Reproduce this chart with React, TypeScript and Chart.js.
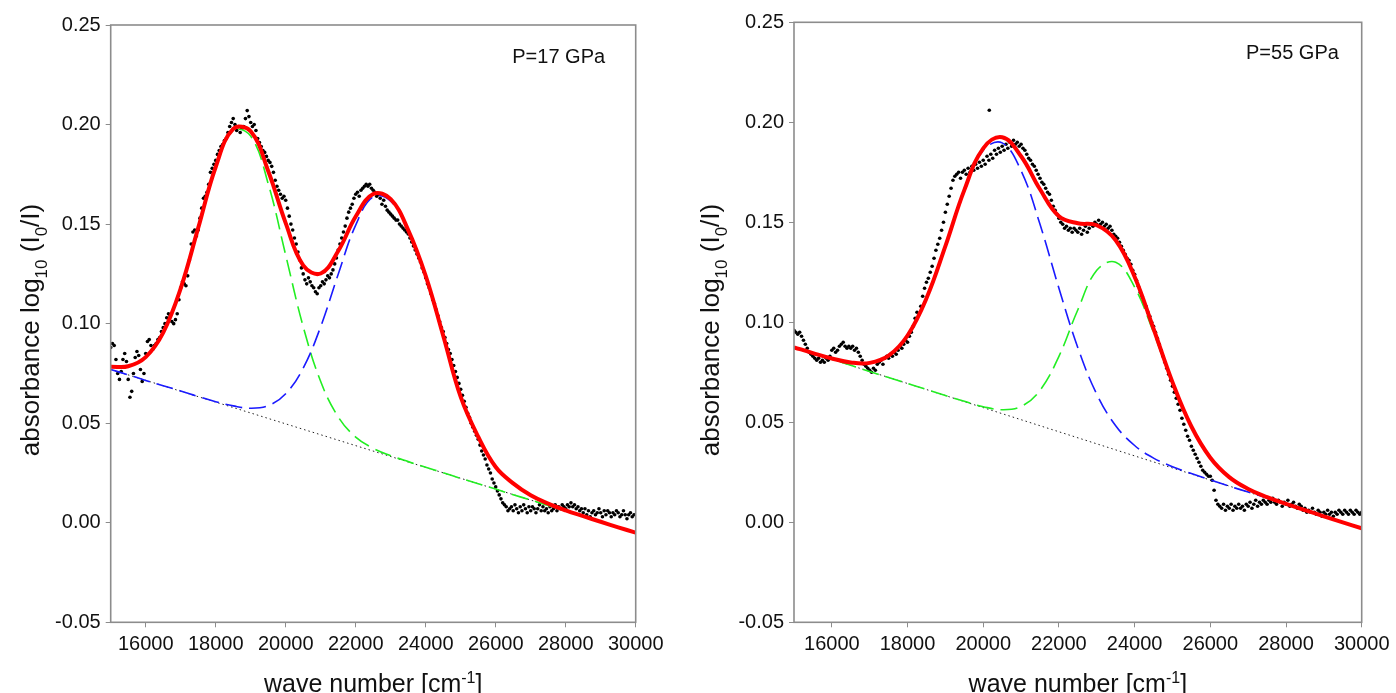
import React, { useEffect, useRef } from "react";
import { Chart, registerables } from "chart.js";

Chart.register(...registerables);

const FONT = "'Liberation Sans', Arial, Helvetica, sans-serif";

// axes
const X_MIN = 15000;
const X_MAX = 30000;
const Y_MIN = -0.05;
const Y_MAX = 0.25;
const X_TICKS = [16000, 18000, 20000, 22000, 24000, 26000, 28000, 30000];
const Y_TICKS = [-0.05, 0.0, 0.05, 0.1, 0.15, 0.2, 0.25];

// sampling grids of the measured spectra and of the fitted curves
const DATA_START = 15000;
const DATA_STEP = 50;
const FIT_START = 15000;
const FIT_STEP = 500;

// ---------- P = 17 GPa ----------
const LEFT_LABEL = "P=17 GPa";
const LEFT_DATA = [
  0.088, 0.090, 0.089, 0.082, 0.075, 0.072, 0.076, 0.082, 0.085, 0.081,
  0.072, 0.063, 0.066, 0.075, 0.083, 0.086, 0.084, 0.077, 0.071, 0.075,
  0.085, 0.091, 0.092, 0.089, 0.087, 0.089, 0.090, 0.092, 0.093, 0.096,
  0.098, 0.100, 0.103, 0.105, 0.104, 0.101, 0.100, 0.102, 0.105, 0.112,
  0.118, 0.121, 0.120, 0.119, 0.124, 0.132, 0.140, 0.146, 0.147, 0.144,
  0.147, 0.153, 0.158, 0.163, 0.164, 0.166, 0.170, 0.176, 0.178, 0.180,
  0.182, 0.185, 0.187, 0.189, 0.190, 0.192, 0.193, 0.196, 0.199, 0.201,
  0.203, 0.200, 0.197, 0.199, 0.196, 0.198, 0.199, 0.203, 0.207, 0.204,
  0.201, 0.199, 0.200, 0.197, 0.193, 0.191, 0.189, 0.187, 0.186, 0.184,
  0.182, 0.181, 0.179, 0.176, 0.172, 0.169, 0.167, 0.165, 0.163, 0.164,
  0.162, 0.158, 0.154, 0.150, 0.147, 0.143, 0.140, 0.136, 0.132, 0.128,
  0.125, 0.122, 0.120, 0.123, 0.121, 0.119, 0.118, 0.116, 0.115, 0.118,
  0.119, 0.121, 0.120, 0.122, 0.124, 0.123, 0.125, 0.127, 0.130, 0.133,
  0.137, 0.140, 0.143, 0.146, 0.149, 0.153, 0.156, 0.158, 0.160, 0.163,
  0.165, 0.166, 0.164, 0.167, 0.168, 0.169, 0.170, 0.169, 0.170, 0.168,
  0.167, 0.166, 0.164, 0.165, 0.163, 0.160, 0.162, 0.159, 0.157, 0.156,
  0.155, 0.154, 0.153, 0.152, 0.152, 0.150, 0.149, 0.148, 0.147, 0.146,
  0.145, 0.143, 0.141, 0.139, 0.137, 0.135, 0.133, 0.131, 0.128, 0.126,
  0.123, 0.120, 0.118, 0.115, 0.112, 0.110, 0.107, 0.104, 0.101, 0.098,
  0.096, 0.093, 0.090, 0.087, 0.085, 0.082, 0.079, 0.076, 0.073, 0.070,
  0.067, 0.064, 0.061, 0.058, 0.055, 0.053, 0.050, 0.048, 0.046, 0.044,
  0.042, 0.039, 0.036, 0.034, 0.032, 0.029, 0.027, 0.025, 0.022, 0.020,
  0.018, 0.016, 0.014, 0.012, 0.010, 0.009, 0.008, 0.006, 0.007, 0.008,
  0.006, 0.009, 0.007, 0.005, 0.008, 0.006, 0.009, 0.007, 0.005, 0.008,
  0.006, 0.008, 0.007, 0.005, 0.007, 0.009, 0.006, 0.008, 0.006, 0.007,
  0.005, 0.008, 0.006, 0.007, 0.009, 0.006, 0.008, 0.007, 0.009, 0.008,
  0.007, 0.009, 0.008, 0.010, 0.008, 0.009, 0.007, 0.008, 0.006, 0.007,
  0.005, 0.007, 0.004, 0.006, 0.003, 0.005, 0.006, 0.004, 0.005, 0.007,
  0.005, 0.003, 0.006, 0.004, 0.006, 0.005, 0.003, 0.005, 0.004, 0.006,
  0.005, 0.003, 0.004, 0.006, 0.004, 0.002, 0.004, 0.005, 0.003, 0.004,
  0.004,
];
const LEFT_FIT = [
  0.0784, 0.0786, 0.0832, 0.0955, 0.1177, 0.1481, 0.1787, 0.1978, 0.1966, 0.1767,
  0.1505, 0.1293, 0.1252, 0.1365, 0.1538, 0.1651, 0.1625, 0.1470, 0.1240, 0.0940,
  0.0632, 0.0432, 0.0280, 0.0198, 0.0138, 0.0096, 0.0062, 0.0033, 0.0005, -0.0023,
  -0.0050,
];
const LEFT_GREEN = [
  0.0784, 0.0786, 0.0832, 0.0955, 0.1177, 0.1480, 0.1785, 0.1970, 0.1942, 0.1703,
  0.1344, 0.0985, 0.0709, 0.0532, 0.0430, 0.0374, 0.0337, 0.0307, 0.0279, 0.0251,
  0.0223, 0.0196, 0.0169, 0.0141, 0.0114, 0.0087, 0.0059, 0.0032, 0.0005, -0.0023,
  -0.0050,
];
const LEFT_BLUE = [
  0.0770, 0.0743, 0.0715, 0.0688, 0.0662, 0.0634, 0.0608, 0.0587, 0.0575, 0.0588,
  0.0648, 0.0777, 0.0985, 0.1248, 0.1495, 0.1637, 0.1615, 0.1467, 0.1238, 0.0939,
  0.0630, 0.0430, 0.0279, 0.0198, 0.0138, 0.0096, 0.0062, 0.0033, 0.0005, -0.0023,
  -0.0050,
];
const LEFT_BASE_X = [15000, 30000];
const LEFT_BASE_Y = [0.077, -0.005];

// ---------- P = 55 GPa ----------
const RIGHT_LABEL = "P=55 GPa";
const RIGHT_DATA = [
  0.096, 0.095, 0.094, 0.095, 0.093, 0.091, 0.089, 0.087, 0.085, 0.084,
  0.083, 0.082, 0.081, 0.082, 0.080, 0.081, 0.080, 0.082, 0.081, 0.083,
  0.086, 0.087, 0.085, 0.086, 0.088, 0.089, 0.090, 0.088, 0.087, 0.088,
  0.087, 0.088, 0.086, 0.087, 0.085, 0.083, 0.081, 0.079, 0.078, 0.077,
  0.076, 0.075, 0.077, 0.076, 0.079, 0.080, 0.081, 0.079, 0.082, 0.083,
  0.082, 0.084, 0.083, 0.085, 0.084, 0.086, 0.088, 0.087, 0.089, 0.091,
  0.090, 0.093, 0.095, 0.098, 0.102, 0.105, 0.104, 0.108, 0.113, 0.117,
  0.120, 0.122, 0.125, 0.128, 0.132, 0.136, 0.139, 0.142, 0.146, 0.150,
  0.155, 0.159, 0.163, 0.167, 0.171, 0.173, 0.174, 0.175, 0.172, 0.175,
  0.176, 0.174, 0.177, 0.175, 0.178, 0.176, 0.179, 0.177, 0.180, 0.178,
  0.181, 0.179, 0.183, 0.181, 0.184, 0.182, 0.186, 0.184, 0.187, 0.185,
  0.188, 0.186, 0.189, 0.187, 0.190, 0.188, 0.191, 0.189, 0.190, 0.188,
  0.189, 0.187, 0.186, 0.184, 0.182, 0.181, 0.179, 0.178, 0.176, 0.174,
  0.172, 0.170, 0.169, 0.167, 0.165, 0.164, 0.161, 0.158, 0.156, 0.154,
  0.152, 0.150, 0.149, 0.147, 0.148, 0.146, 0.147, 0.145, 0.147, 0.146,
  0.145, 0.147, 0.144, 0.146, 0.148, 0.145, 0.147, 0.149, 0.148, 0.150,
  0.149, 0.151, 0.149, 0.150, 0.148, 0.149, 0.147, 0.148, 0.146, 0.144,
  0.143, 0.142, 0.140, 0.138, 0.136, 0.134, 0.132, 0.131, 0.129, 0.126,
  0.124, 0.121, 0.118, 0.115, 0.113, 0.110, 0.108, 0.105, 0.103, 0.100,
  0.098, 0.095, 0.092, 0.089, 0.086, 0.083, 0.080, 0.077, 0.074, 0.071,
  0.068, 0.065, 0.062, 0.059, 0.056, 0.052, 0.049, 0.046, 0.043, 0.041,
  0.038, 0.036, 0.034, 0.032, 0.030, 0.028, 0.026, 0.025, 0.024, 0.023,
  0.023, 0.021, 0.016, 0.011, 0.009, 0.008, 0.007, 0.009, 0.006, 0.008,
  0.007, 0.009, 0.006, 0.008, 0.007, 0.009, 0.007, 0.008, 0.006, 0.009,
  0.008, 0.010, 0.007, 0.009, 0.011, 0.008, 0.010, 0.009, 0.011, 0.010,
  0.009, 0.011, 0.010, 0.012, 0.010, 0.009, 0.011, 0.010, 0.008, 0.010,
  0.009, 0.011, 0.008, 0.009, 0.010, 0.008, 0.007, 0.009, 0.008, 0.006,
  0.007, 0.005, 0.006, 0.005, 0.007, 0.005, 0.004, 0.006, 0.005, 0.003,
  0.005, 0.004, 0.006, 0.004, 0.005, 0.003, 0.005, 0.004, 0.006, 0.005,
  0.004, 0.006, 0.005, 0.004, 0.006, 0.005, 0.004, 0.006, 0.005, 0.004,
  0.005,
];
const RIGHT_OUTLIER_X = [20160];
const RIGHT_OUTLIER_Y = [0.206];
const RIGHT_FIT = [
  0.0875, 0.0846, 0.0819, 0.0799, 0.0797, 0.0833, 0.0934, 0.1120, 0.1381, 0.1661,
  0.1870, 0.1925, 0.1830, 0.1665, 0.1530, 0.1495, 0.1485, 0.1410, 0.1228, 0.0968,
  0.0701, 0.0479, 0.0323, 0.0226, 0.0167, 0.0126, 0.0092, 0.0061, 0.0030, 0.0000,
  -0.0030,
];
const RIGHT_BLUE = [
  0.0875, 0.0846, 0.0819, 0.0799, 0.0797, 0.0833, 0.0934, 0.1120, 0.1381, 0.1660,
  0.1860, 0.1897, 0.1758, 0.1490, 0.1170, 0.0873, 0.0640, 0.0483, 0.0384, 0.0321,
  0.0278, 0.0244, 0.0212, 0.0181, 0.0151, 0.0121, 0.0091, 0.0061, 0.0030, 0.0000,
  -0.0030,
];
const RIGHT_GREEN = [
  0.0875, 0.0845, 0.0815, 0.0785, 0.0754, 0.0724, 0.0694, 0.0664, 0.0634, 0.0605,
  0.0578, 0.0563, 0.0579, 0.0660, 0.0830, 0.1063, 0.1260, 0.1300, 0.1176, 0.0949,
  0.0695, 0.0477, 0.0323, 0.0226, 0.0167, 0.0126, 0.0092, 0.0061, 0.0030, 0.0000,
  -0.0030,
];
const RIGHT_BASE_X = [15000, 30000];
const RIGHT_BASE_Y = [0.0875, -0.003];

// axis titles (rich text: sub / superscripts)
const Y_TITLE = [
  { t: "absorbance log" },
  { t: "10", s: "sub" },
  { t: " (I" },
  { t: "0", s: "sub" },
  { t: "/I)" },
];
const X_TITLE = [{ t: "wave number [cm" }, { t: "-1", s: "sup" }, { t: "]" }];

const CANVAS_W = 698;
const CANVAS_H = 693;

type Part = { t: string; s?: string };

function drawRich(ctx: CanvasRenderingContext2D, parts: Part[], cx: number, cy: number, size: number, rotate: boolean) {
  ctx.save();
  ctx.translate(cx, cy);
  if (rotate) ctx.rotate(-Math.PI / 2);
  const small = Math.round(size * 0.65);
  const widths: number[] = [];
  let total = 0;
  for (const p of parts) {
    ctx.font = `${p.s ? small : size}px ${FONT}`;
    const w = ctx.measureText(p.t).width;
    widths.push(w);
    total += w;
  }
  let x = -total / 2;
  ctx.textAlign = "left";
  ctx.textBaseline = "alphabetic";
  ctx.fillStyle = "#111";
  const base = size * 0.36;
  parts.forEach((p, i) => {
    ctx.font = `${p.s ? small : size}px ${FONT}`;
    const dy = p.s === "sub" ? size * 0.3 : p.s === "sup" ? -size * 0.38 : 0;
    ctx.fillText(p.t, x, base + dy);
    x += widths[i];
  });
  ctx.restore();
}

const decorPlugin = {
  id: "panelDecor",
  afterDatasetsDraw(chart: any) {
    const { ctx, chartArea } = chart;
    ctx.save();
    ctx.strokeStyle = "#8c8c8c";
    ctx.lineWidth = 1.6;
    ctx.strokeRect(chartArea.left, chartArea.top, chartArea.right - chartArea.left, chartArea.bottom - chartArea.top);
    ctx.restore();
  },
  afterDraw(chart: any, _args: any, opts: any) {
    const { ctx, chartArea, scales } = chart;
    drawRich(ctx, Y_TITLE, opts.yTitleX, opts.yTitleY, 26, true);
    drawRich(ctx, X_TITLE, (chartArea.left + chartArea.right) / 2, opts.xTitleY, 25, false);
    ctx.save();
    ctx.font = `20px ${FONT}`;
    ctx.fillStyle = "#111";
    ctx.textAlign = "center";
    ctx.textBaseline = "middle";
    ctx.fillText(opts.label, scales.x.getPixelForValue(opts.labelX), scales.y.getPixelForValue(opts.labelY));
    ctx.restore();
  },
};

type Panel = {
  label: string;
  labelX: number;
  labelY: number;
  data: number[];
  extraX: number[];
  extraY: number[];
  fit: number[];
  green: number[];
  blue: number[];
  baseX: number[];
  baseY: number[];
  plotLeft: number;
  plotRight: number;
  plotTop: number;
  plotBottom: number;
  yTitleX: number;
  yTitleY: number;
  xTitleY: number;
};

const PANELS: Panel[] = [
  {
    label: LEFT_LABEL, labelX: 27800, labelY: 0.2335,
    data: LEFT_DATA, extraX: [], extraY: [],
    fit: LEFT_FIT, green: LEFT_GREEN, blue: LEFT_BLUE,
    baseX: LEFT_BASE_X, baseY: LEFT_BASE_Y,
    plotLeft: 110.7, plotRight: 635.7, plotTop: 25, plotBottom: 622.3,
    yTitleX: 30, yTitleY: 330, xTitleY: 683,
  },
  {
    label: RIGHT_LABEL, labelX: 28170, labelY: 0.2342,
    data: RIGHT_DATA, extraX: RIGHT_OUTLIER_X, extraY: RIGHT_OUTLIER_Y,
    fit: RIGHT_FIT, green: RIGHT_GREEN, blue: RIGHT_BLUE,
    baseX: RIGHT_BASE_X, baseY: RIGHT_BASE_Y,
    plotLeft: 96, plotRight: 663.7, plotTop: 22.3, plotBottom: 622.3,
    yTitleX: 12, yTitleY: 330, xTitleY: 683,
  },
];

function fitPoints(arr: number[]) {
  return arr.map((y, i) => ({ x: FIT_START + i * FIT_STEP, y }));
}

function SpectrumPanel({ p }: { p: Panel }) {
  const ref = useRef<HTMLCanvasElement | null>(null);
  useEffect(() => {
    if (!ref.current) return;
    const tickFont = { family: FONT, size: 20 };
    const chart = new Chart(ref.current, {
      type: "scatter",
      data: {
        datasets: [
          {
            label: "fit",
            data: fitPoints(p.fit),
            showLine: true,
            borderColor: "#ff0000",
            borderWidth: 4,
            pointRadius: 0,
            tension: 0.4,
            order: 1,
          },
          {
            label: "blue",
            data: fitPoints(p.blue),
            showLine: true,
            borderColor: "#1a1aff",
            borderWidth: 1.6,
            borderDash: [17, 7],
            pointRadius: 0,
            tension: 0.4,
            order: 2,
          },
          {
            label: "green",
            data: fitPoints(p.green),
            showLine: true,
            borderColor: "#22ee22",
            borderWidth: 1.6,
            borderDash: [17, 7],
            pointRadius: 0,
            tension: 0.4,
            order: 3,
          },
          {
            label: "data",
            data: p.data.map((y, i) => ({ x: DATA_START + i * DATA_STEP, y })),
            showLine: false,
            pointRadius: 1.8,
            pointBorderWidth: 0,
            backgroundColor: "#000",
            borderColor: "#000",
            order: 4,
          },
          {
            label: "data2",
            data: p.extraX.map((x, i) => ({ x, y: p.extraY[i] })),
            showLine: false,
            pointRadius: 1.8,
            pointBorderWidth: 0,
            backgroundColor: "#000",
            borderColor: "#000",
            order: 4,
          },
          {
            label: "baseline",
            data: p.baseX.map((x, i) => ({ x, y: p.baseY[i] })),
            showLine: true,
            borderColor: "#222",
            borderWidth: 1,
            borderDash: [1.5, 3],
            pointRadius: 0,
            order: 5,
          },
        ],
      },
      options: {
        responsive: false,
        animation: false,
        events: [],
        layout: {
          padding: {
            left: 0,
            top: p.plotTop,
            right: CANVAS_W - p.plotRight,
            bottom: 0,
          },
        },
        plugins: {
          legend: { display: false },
          tooltip: { enabled: false },
          panelDecor: {
            label: p.label,
            labelX: p.labelX,
            labelY: p.labelY,
            yTitleX: p.yTitleX,
            yTitleY: p.yTitleY,
            xTitleY: p.xTitleY,
          },
        } as any,
        scales: {
          x: {
            type: "linear",
            min: X_MIN,
            max: X_MAX,
            afterBuildTicks: (s: any) => {
              s.ticks = X_TICKS.map((v) => ({ value: v }));
            },
            afterFit: (s: any) => {
              s.height = CANVAS_H - p.plotBottom;
            },
            grid: {
              display: true,
              drawOnChartArea: false,
              drawTicks: true,
              tickLength: 5,
              color: "#8c8c8c",
              lineWidth: 1,
            },
            border: { display: false },
            ticks: {
              font: tickFont,
              color: "#111",
              padding: 5,
              autoSkip: false,
              maxRotation: 0,
              callback: (v: any) => String(v),
            },
          },
          y: {
            type: "linear",
            min: Y_MIN,
            max: Y_MAX,
            afterBuildTicks: (s: any) => {
              s.ticks = Y_TICKS.map((v) => ({ value: v }));
            },
            afterFit: (s: any) => {
              s.width = p.plotLeft;
            },
            grid: {
              display: true,
              drawOnChartArea: false,
              drawTicks: true,
              tickLength: 5,
              color: "#8c8c8c",
              lineWidth: 1,
            },
            border: { display: false },
            ticks: {
              font: tickFont,
              color: "#111",
              padding: 5,
              callback: (v: any) => Number(v).toFixed(2),
            },
          },
        },
      },
      plugins: [decorPlugin],
    } as any);
    return () => chart.destroy();
  }, [p]);
  return <canvas ref={ref} width={CANVAS_W} height={CANVAS_H} style={{ display: "block" }} />;
}

export default function App() {
  return (
    <div
      style={{
        position: "absolute",
        left: 0,
        top: 0,
        width: 1396,
        height: 693,
        display: "flex",
        background: "#fff",
      }}
    >
      {PANELS.map((p, i) => (
        <SpectrumPanel key={i} p={p} />
      ))}
    </div>
  );
}
